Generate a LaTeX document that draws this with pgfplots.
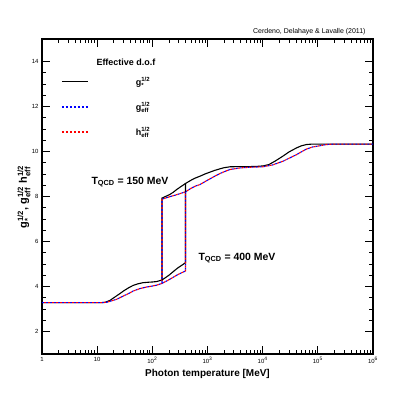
\documentclass[border=0pt]{standalone}
\usepackage{amsmath}
\usepackage{fontspec}
\setmainfont{Liberation Sans}
\usepackage{pgfplots}
\pgfplotsset{compat=1.18}

% square-root d.o.f. with stacked scripts in the text font
\newcommand{\dof}[2]{#1$^{\text{1/2}}_{\text{#2}}$}

\begin{document}
\begin{tikzpicture}
\path[use as bounding box] (0bp,0bp) rectangle (415bp,395bp);
\begin{axis}[
  at={(42bp,41bp)}, anchor=south west,
  width=331bp, height=315bp, scale only axis,
  xmode=log, xmin=1, xmax=1e6, ymin=1, ymax=15,
  xtick={1,10,100,1000,10000,100000,1000000},
  xticklabels={1,10,10\textsuperscript{2},10\textsuperscript{3},10\textsuperscript{4},10\textsuperscript{5},10\textsuperscript{6}},
  ytick={2,4,...,14}, minor y tick num=3,
  /pgf/number format/assume math mode=true,
  tick label style={font=\fontsize{6}{7}\selectfont},
  tick align=inside,
  major tick length=8bp, minor tick length=4bp,
  tick style={black, line width=0.7bp},
  axis line style={line width=1.1bp},
  legend style={at={(0.057,0.885)}, anchor=north west, draw=none, fill=none,
    font=\bfseries\fontsize{9}{10}\selectfont, row sep=11.5bp, inner sep=0pt},
  legend cell align=left,
  legend image code/.code={\draw[#1, line width=1.5bp] (0bp,0.5bp) -- (26bp,0.5bp); \path[draw=none] (0bp,0bp) -- (72bp,0bp);},
]
% g_*^{1/2}, T_QCD = 150 MeV
\addplot[black, line width=1.1bp] coordinates {
 (1,3.28) (10,3.28) (12,3.285) (14,3.30) (17,3.38) (20,3.50) (25,3.66) (30,3.80)
 (37,3.94) (45,4.05) (55,4.12) (68,4.17) (85,4.19) (100,4.20) (120,4.22) (150,4.29)
 (150,7.93) (180,8.02) (208,8.09) (240,8.19) (276,8.31) (330,8.44) (400,8.58)
 (500,8.72) (600,8.82) (728,8.90) (900,9.00) (1100,9.08) (1350,9.16) (1680,9.23)
 (2000,9.28) (2550,9.32) (3870,9.33) (6000,9.33) (8000,9.34) (10200,9.36)
 (13000,9.42) (17000,9.58) (23500,9.80) (30000,9.98) (41100,10.16) (50000,10.25)
 (62400,10.31) (80000,10.33) (1000000,10.33)};
\addlegendentry{\dof{g}{*}}
% g_eff^{1/2}, T_QCD = 150 MeV
\addplot[blue, line width=1.1bp, dash pattern=on 2bp off 2bp] coordinates {
 (1,3.28) (12,3.28) (15,3.30) (18,3.36) (22.5,3.43) (30,3.58) (38,3.70) (45,3.80)
 (60,3.91) (80,3.98) (100,4.02) (120,4.06) (150,4.14) (150,7.88) (200,7.98)
 (276,8.08) (400,8.21) (500,8.36) (600,8.46) (728,8.53) (900,8.66) (1100,8.78)
 (1350,8.90) (1680,9.02) (2000,9.10) (2550,9.20) (3870,9.27) (5870,9.30)
 (10000,9.32) (15000,9.40) (23500,9.57) (30000,9.70) (41100,9.86) (50000,9.98)
 (62400,10.11) (80000,10.20) (94700,10.23) (144000,10.31) (200000,10.33) (1000000,10.33)};
\addlegendentry{\dof{g}{eff}}
\addlegendimage{red, line width=1.1bp, dash pattern=on 2bp off 2bp}
\addlegendentry{\dof{h}{eff}}
% h_eff^{1/2}, T_QCD = 150 MeV
\addplot[red, line width=1.1bp, dash pattern=on 2bp off 2bp, dash phase=2bp, forget plot] coordinates {
 (1,3.28) (12,3.28) (15,3.30) (18,3.36) (22.5,3.43) (30,3.58) (38,3.70) (45,3.80)
 (60,3.91) (80,3.98) (100,4.02) (120,4.06) (150,4.14) (150,7.88) (200,7.98)
 (276,8.08) (400,8.21) (500,8.36) (600,8.46) (728,8.53) (900,8.66) (1100,8.78)
 (1350,8.90) (1680,9.02) (2000,9.10) (2550,9.20) (3870,9.27) (5870,9.30)
 (10000,9.32) (15000,9.40) (23500,9.57) (30000,9.70) (41100,9.86) (50000,9.98)
 (62400,10.11) (80000,10.20) (94700,10.23) (144000,10.31) (200000,10.33) (1000000,10.33)};
% T_QCD = 400 MeV branches
\addplot[black, line width=1.1bp, forget plot] coordinates {
 (150,4.29) (200,4.50) (250,4.70) (295,4.84) (350,4.96) (400,5.06) (400,8.58)};
\addplot[blue, line width=1.1bp, dash pattern=on 2bp off 2bp, forget plot] coordinates {
 (150,4.14) (200,4.30) (295,4.54) (400,4.69) (400,8.21)};
\addplot[red, line width=1.1bp, dash pattern=on 2bp off 2bp, dash phase=2bp, forget plot] coordinates {
 (150,4.14) (200,4.30) (295,4.54) (400,4.69) (400,8.21)};
\end{axis}
\node[anchor=east, font=\fontsize{7}{8}\selectfont] at (369bp,363.5bp) {Cerdeno, Delahaye \& Lavalle (2011)};
\node[anchor=west, font=\bfseries\fontsize{9}{10}\selectfont] at (93bp,333bp) {Effective d.o.f};
\node[anchor=west, font=\bfseries\fontsize{10.5}{12}\selectfont] at (88bp,213bp) {T\textsubscript{QCD} = 150 MeV};
\node[anchor=west, font=\bfseries\fontsize{10.5}{12}\selectfont] at (195bp,137bp) {T\textsubscript{QCD} = 400 MeV};
\node[font=\bfseries\fontsize{10}{12}\selectfont] at (207.5bp,21bp) {Photon temperature [MeV]};
\node[rotate=90, font=\bfseries\fontsize{11}{13}\selectfont] at (24bp,198bp) {\dof{g}{*}, \dof{g}{eff} \dof{h}{eff}};
\end{tikzpicture}
\end{document}
